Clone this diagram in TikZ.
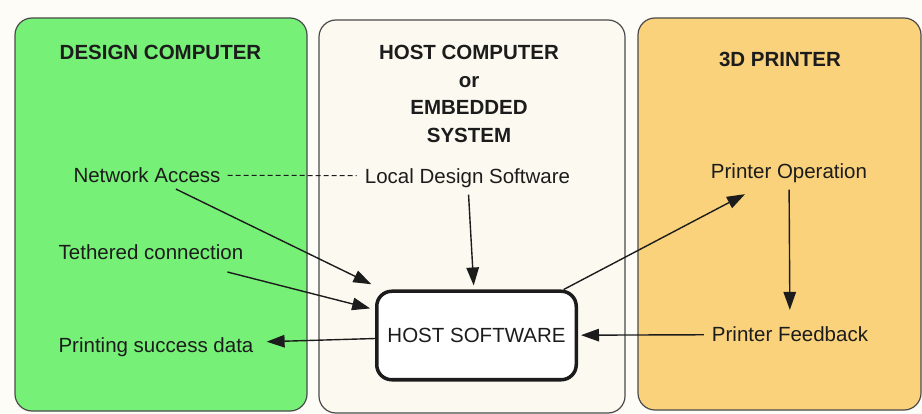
\documentclass[tikz,border=0pt]{standalone}
\usepackage{fontspec}
\setmainfont{Liberation Sans}
\usetikzlibrary{arrows.meta}
\definecolor{bgc}{HTML}{FDFCF7}
\definecolor{greenp}{HTML}{76F076}
\definecolor{hostp}{HTML}{FCFAF0}
\definecolor{orangep}{HTML}{FAD27B}
\definecolor{edgec}{HTML}{4A4A4A}
\definecolor{inkc}{HTML}{1C1C1C}
\tikzset{
  panel/.style={draw=edgec, line width=1.2pt, rounded corners=17pt},
  lbl/.style={font=\fontsize{20.5}{24}\selectfont, text=inkc, text height=14.8pt, text depth=0pt, inner sep=3pt},
  ttl/.style={font=\fontsize{20.5}{27.7}\selectfont\bfseries, text=inkc},
  hostbox/.style={draw=inkc, fill=white, line width=3.5pt, rounded corners=15pt, minimum width=199.5pt, minimum height=88.5pt, font=\fontsize{20.5}{24}\selectfont, text=inkc, text height=14.8pt, text depth=0pt},
  arr/.style={draw=inkc, line width=1.4pt, -{Triangle[length=18pt,width=12.5pt]}},
  dashline/.style={draw=inkc, line width=1pt, dash pattern=on 5pt off 3pt}
}
\begin{document}
\begin{tikzpicture}[x=1pt,y=-1pt]
\fill[bgc] (0,0) rectangle (922,414);
\useasboundingbox (0,0) rectangle (922,414);
% panels
\draw[panel, fill=greenp] (15,18) rectangle (307,411);
\draw[panel, fill=hostp] (319,20) rectangle (625,413);
\draw[panel, fill=orangep] (638,18) rectangle (921,410);
% titles
\node[ttl, text height=14.8pt, text depth=0pt] (dct) at (160.5,52.5) {DESIGN COMPUTER};
\node[ttl, align=center, anchor=north, inner sep=0pt] (hct) at (469,45) {HOST COMPUTER\\or\\EMBEDDED\\SYSTEM};
\node[ttl, text height=14.8pt, text depth=0pt] (pt) at (780,59.5) {3D PRINTER};
% labels
\node[lbl] (na) at (147,175) {Network Access};
\node[lbl] (lds) at (467.5,176) {Local Design Software};
\node[lbl] (tc) at (151,252.5) {Tethered connection};
\node[lbl] (psd) at (156,345) {Printing success data};
\node[lbl] (po) at (789,171) {Printer Operation};
\node[lbl] (pf) at (790,334.5) {Printer Feedback};
\node[hostbox] (host) at (476.5,335.5) {HOST SOFTWARE};
% connectors
\draw[dashline, shorten <=4pt, shorten >=5pt] (na) -- (lds);
\draw[arr, shorten <=8pt, shorten >=12pt] (na) -- (host);
\draw[arr, shorten <=36pt, shorten >=5pt] (tc) -- (host);
\draw[arr, shorten <=8pt, shorten >=4pt] (lds) -- (host);
\draw[arr, shorten >=10pt] (host) -- (psd);
\draw[arr, shorten >=27pt] (host) -- (po);
\draw[arr, shorten <=8pt, shorten >=14pt] (po) -- (pf);
\draw[arr, shorten <=5pt, shorten >=3pt] (pf) -- (host);
\end{tikzpicture}
\end{document}
